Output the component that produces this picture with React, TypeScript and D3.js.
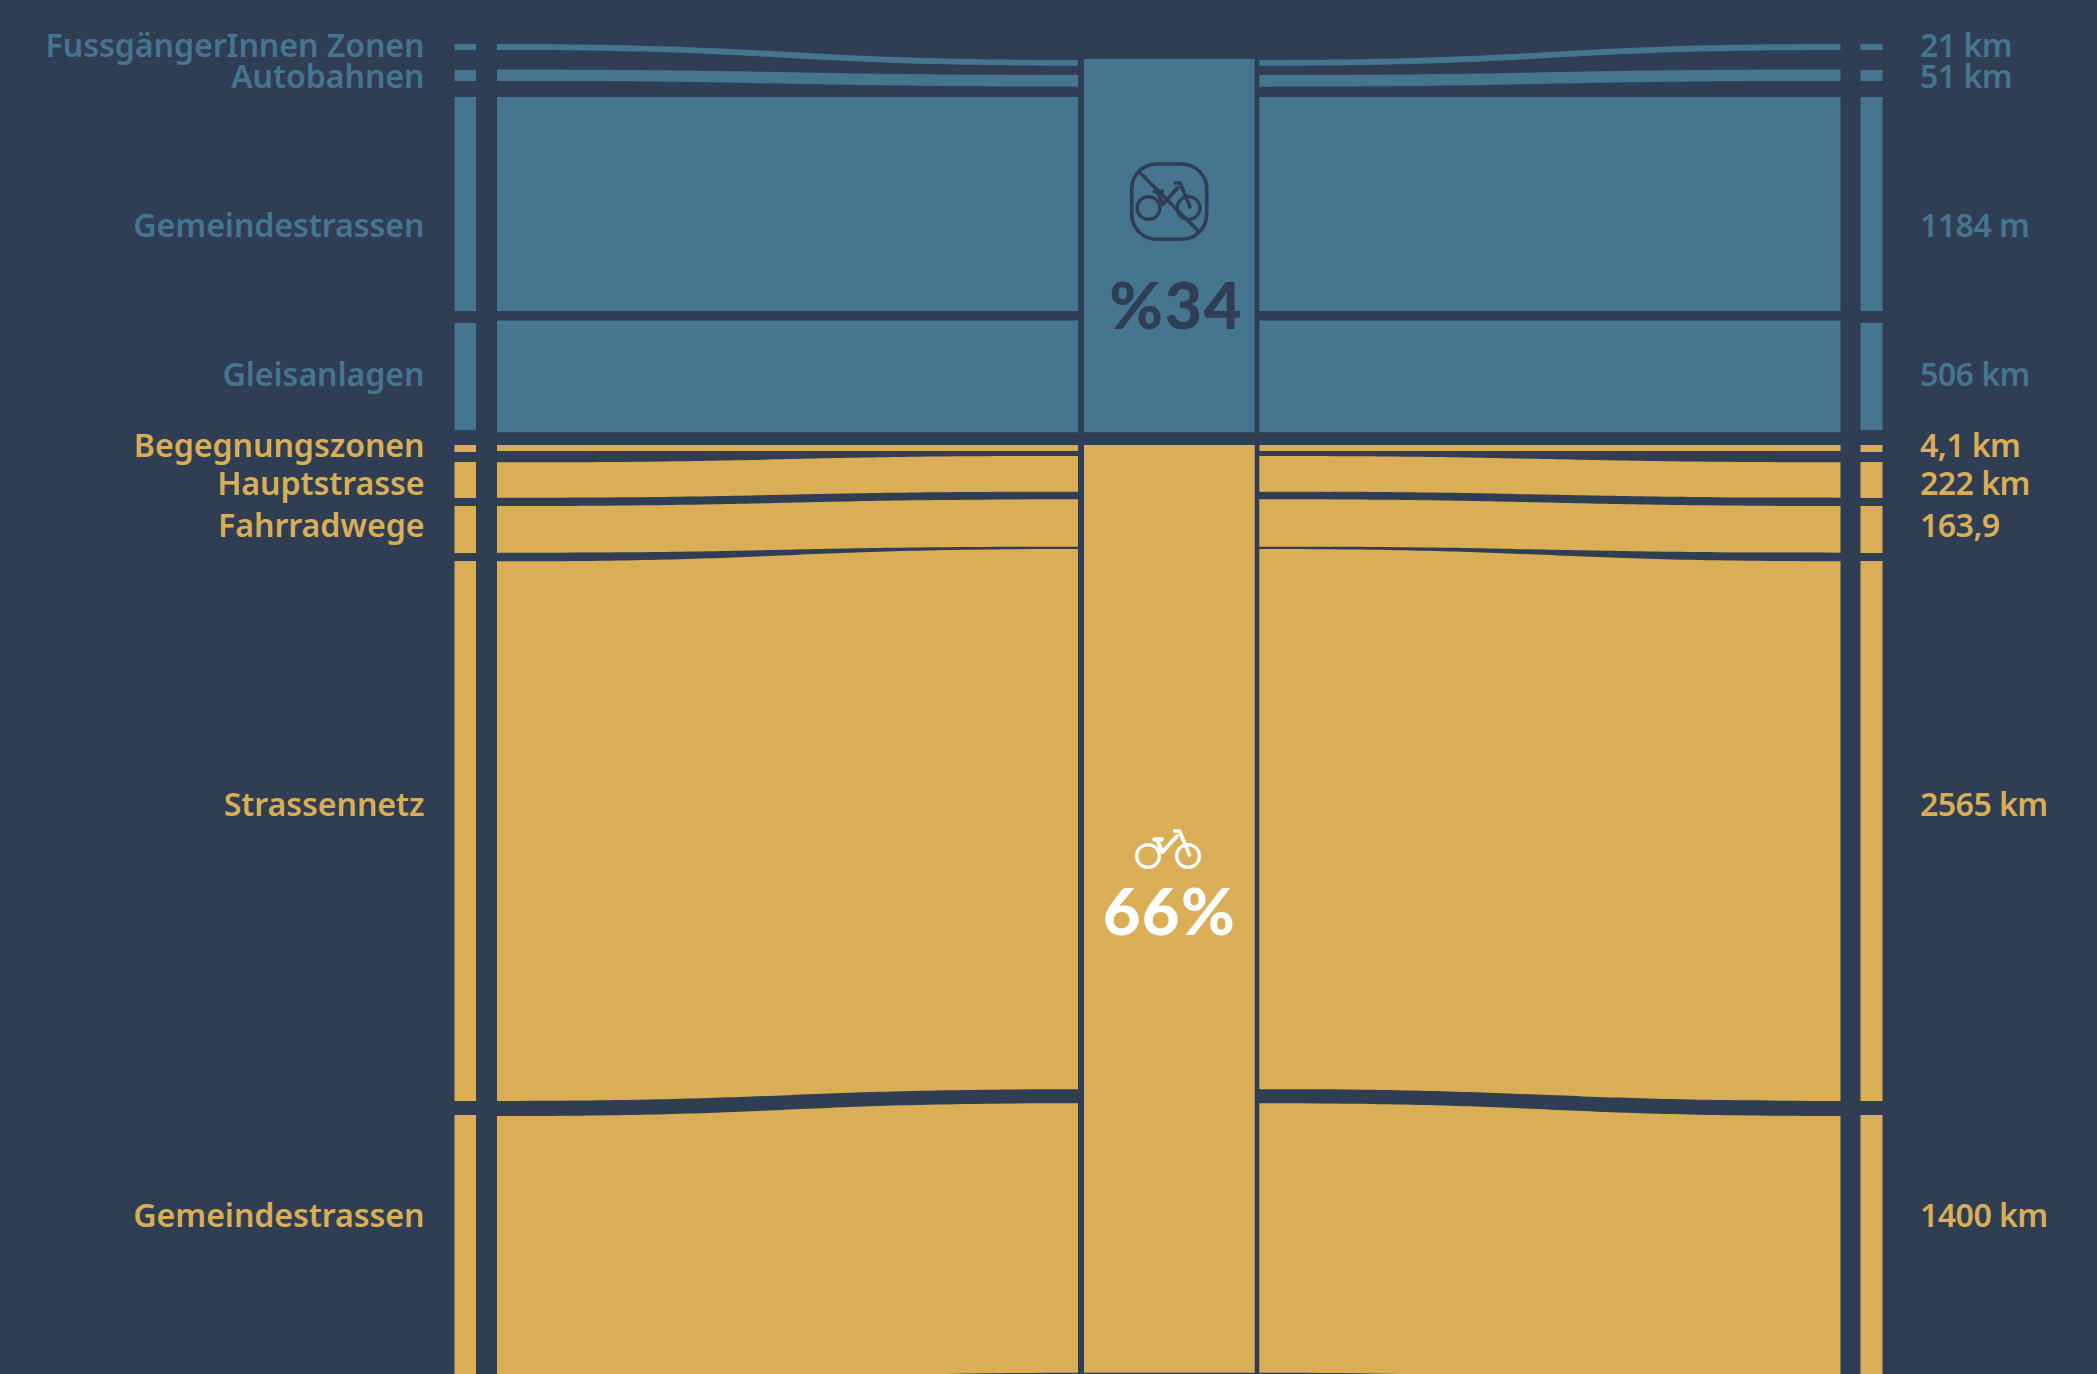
import React from "react";
import * as d3 from "d3";

const W = 2097, H = 1374;
const BG = "#2f3e52", BLUE = "#467590", YELLOW = "#d9ae57", WHITE = "#ffffff";

const categories = ["FussgängerInnen Zonen","Autobahnen","Gemeindestrassen","Gleisanlagen","Begegnungszonen","Hauptstrasse","Fahrradwege","Strassennetz","Gemeindestrassen"];
const lengthLabels = ["21 km","51 km","1184 m","506 km","4,1 km","222 km","163,9","2565 km","1400 km"];
const groups = [0,0,0,0,1,1,1,1,1];
// Vertical extents, in chart units
const labelBaseline = [56.5,87.5,236.5,385.5,456.5,494.5,536.5,815.5,1226.5];
const sideTop =     [44,70,97,323,445,462,506,561,1115];
const sideBottom =  [50,81,311,430,452,498,553,1101,1400];
const outerTop =    [44,69.5,97,320.5,445,462.3,506,561.3,1116];
const outerBottom = [50,81,311,432.3,451,497.7,552.7,1101,1386];
const innerTop =    [60,75,97,320.5,445,456,499.3,549,1103.3];
const innerBottom = [65.7,86.7,311,432.3,451,491.7,546.7,1089.3,1372.7];
const columnTop = [59,445];
const columnBottom = [432.3,1372.7];

const y = d3.scaleLinear().domain([0,H]).range([0,H]);
const color = (g:number) => g===0 ? BLUE : YELLOW;
const band = d3.area<{x:number;t:number;b:number}>().x(d=>d.x).y0(d=>y(d.t)).y1(d=>y(d.b)).curve(d3.curveBumpX);

function Bike({dx,dy,c}:{dx:number;dy:number;c:string}) {
  return <g transform={`translate(${dx},${dy})`} fill="none" stroke={c} strokeWidth={3.3} strokeLinecap="round" strokeLinejoin="round">
    <circle cx={-20.5} cy={0} r={11.4}/>
    <circle cx={19.5} cy={0} r={11.4}/>
    <path d="M6,-25 L11,-25 L21,-1" strokeWidth={3.6}/>
    <path d="M8.5,-20 L-6,-4 L-11,-15" strokeWidth={4}/>
    <path d="M-14,-16.5 L-7,-16.5" strokeWidth={4.4}/>
  </g>;
}

export default function App() {
  const sx:[number,number][] = [[454.5,476],[1860.5,1882.5]];
  const font = {fontFamily:"'Noto Sans'",fontWeight:600,fontSize:32.2};
  return (
    <svg width={W} height={H} viewBox={`0 0 ${W} ${H}`} style={{position:"absolute",left:0,top:0,background:BG,display:"block"}}>
      <rect width={W} height={H} fill={BG}/>
      {categories.map((c,i)=>(
        <g key={i} fill={color(groups[i])}>
          {sx.map(([a,b],k)=><rect key={k} x={a} width={b-a} y={y(sideTop[i])} height={y(sideBottom[i])-y(sideTop[i])}/>)}
          <path d={band([{x:497,t:outerTop[i],b:outerBottom[i]},{x:1078,t:innerTop[i],b:innerBottom[i]}])!}/>
          <path d={band([{x:1259.3,t:innerTop[i],b:innerBottom[i]},{x:1840.5,t:outerTop[i],b:outerBottom[i]}])!}/>
          <text x={424.5} y={y(labelBaseline[i])} textAnchor="end" {...font} letterSpacing={-0.1}>{c}</text>
          <text x={1920} y={y(labelBaseline[i])} {...font} letterSpacing={-0.6}>{lengthLabels[i]}</text>
        </g>
      ))}
      {columnTop.map((t,i)=><rect key={i} x={1084} width={170.7} y={y(t)} height={y(columnBottom[i])-y(t)} fill={color(i)}/>)}
      <rect x={1131.7} y={164} width={75} height={75.3} rx={25} fill="none" stroke={BG} strokeWidth={3.6}/>
      <path d="M1138,170.7 L1198,230.7" stroke={BG} strokeWidth={3.6}/>
      <Bike dx={1169} dy={208} c={BG}/>
      <text x={1176} y={329} textAnchor="middle" fontFamily="Lato" fontWeight={900} fontSize={65} letterSpacing={1.5} fill={BG}>%34</text>
      <Bike dx={1168.5} dy={856} c={WHITE}/>
      <text x={1169.5} y={935} textAnchor="middle" fontFamily="Lato" fontWeight={900} fontSize={65} letterSpacing={1.5} fill={WHITE}>66%</text>
    </svg>
  );
}
